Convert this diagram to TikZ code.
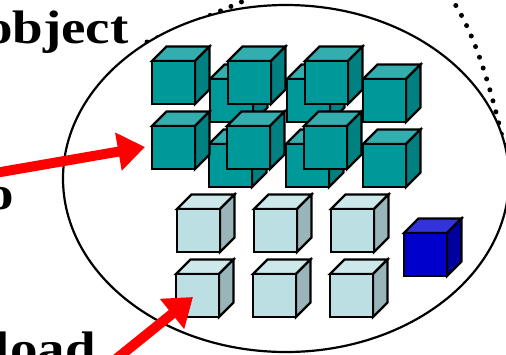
\documentclass[tikz,border=0pt]{standalone}
\usepackage{fontspec}
\setmainfont{Liberation Serif}
\newfontfamily\labelfont[FakeStretch=1.17]{Liberation Serif}
\usetikzlibrary{arrows.meta}

\definecolor{tealfront}{HTML}{009999}
\definecolor{tealtop}{HTML}{33ADAD}
\definecolor{tealside}{HTML}{008080}
\definecolor{palefront}{HTML}{BBDFE3}
\definecolor{paletop}{HTML}{CCE8EB}
\definecolor{paleside}{HTML}{99B5B9}
\definecolor{bluefront}{HTML}{0000CC}
\definecolor{bluetop}{HTML}{3333DD}
\definecolor{blueside}{HTML}{0000A0}

% cube with the front face's top-left corner at (#1,#2), colours #3front/#3top/#3side
\newcommand{\drawcube}[3]{%
  \filldraw[cubeline, fill=#3top] (#1,#2) -- ++(14.5,-14.5) -- ++(43,0) -- ++(-14.5,14.5) -- cycle;
  \filldraw[cubeline, fill=#3side] (#1+43,#2) -- ++(14.5,-14.5) -- ++(0,43) -- ++(-14.5,14.5) -- cycle;
  \filldraw[cubeline, fill=#3front] (#1,#2) rectangle ++(43,43);
}

\begin{document}
\begin{tikzpicture}[
        x=0.5pt, y=-0.5pt,
        cubeline/.style={draw=black, line width=1.1pt},
        boundary/.style={draw=black, line width=1.1pt, fill=white},
        dotline/.style={line width=2.5pt, line cap=round, dash pattern=on 0pt off 5.7pt},
        label/.style={font=\labelfont\bfseries\fontsize{23.5}{28}\selectfont, inner sep=0pt},
        redarrow/.style={-{Triangle[length=13.5pt, width=18.5pt]}, line width=5pt, red}
    ]
        \useasboundingbox (0,0) rectangle (506,354);
        \clip (0,0) rectangle (506,354);

        % Dotted outline of the wider region
        \draw[dotline] (147,42) .. controls (377,-52) and (445,-120) .. (505,150) -- (470,230);

        % Object boundary
        \path[boundary] (286,178.5) ellipse [x radius=111.5pt, y radius=86.75pt];

        % Teal cubes, back layer
        \drawcube{210}{79}{teal}
        \drawcube{287}{79}{teal}
        \drawcube{363}{79}{teal}
        \drawcube{209}{144}{teal}
        \drawcube{286}{144}{teal}
        \drawcube{363}{144}{teal}

        % Teal cubes, front layer
        \drawcube{152}{61}{teal}
        \drawcube{228}{61}{teal}
        \drawcube{305}{61}{teal}
        \drawcube{152}{126}{teal}
        \drawcube{227}{126}{teal}
        \drawcube{304}{126}{teal}

        % Light cubes
        \drawcube{177}{209}{pale}
        \drawcube{254}{209}{pale}
        \drawcube{331}{209}{pale}
        \drawcube{176}{274}{pale}
        \drawcube{253}{274}{pale}
        \drawcube{330}{274}{pale}

        % Single blue cube
        \drawcube{404}{233}{blue}

        % Labels
        \node[label, anchor=base east] (lblobject) at (129,43) {object};
        \node[label, anchor=base east] (lblto) at (14,209) {o};
        \node[label, anchor=base east] (lblpayload) at (96,364) {yload};

        % Arrows
        \coordinate (srcA) at (-5,173);
        \coordinate (tipA) at (145,147);
        \coordinate (srcB) at (100,372);
        \coordinate (tipB) at (193,297);
        \draw[redarrow] (srcA) -- (tipA);
        \draw[redarrow] (srcB) -- (tipB);

    \end{tikzpicture}
\end{document}
